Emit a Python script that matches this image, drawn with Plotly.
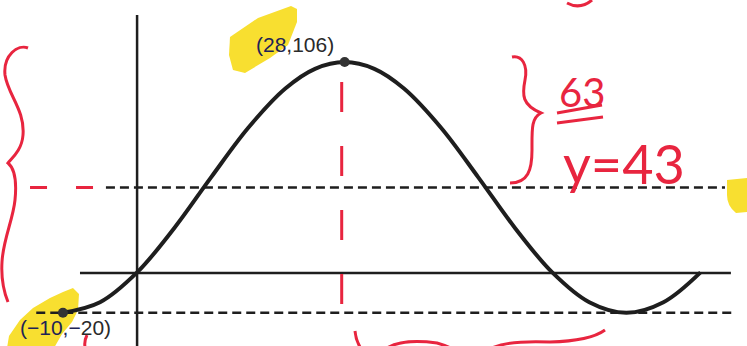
import re
import plotly.graph_objects as go

# Sinusoid readings: x in units, y in units
curve_x = [-10, -5, 0, 5, 10, 15, 20, 24, 28, 32, 36, 41, 46, 51, 56, 61, 66, 71, 76]
curve_y = [-20, -14.7, 0.3, 22.5, 48.2, 73.0, 92.7, 102.6, 106, 102.6, 92.7,
           73.0, 48.2, 22.5, 0.3, -14.7, -20, -14.7, 0.3]

# Labelled extreme points
point_x = [-10, 28]
point_y = [-20, 106]
point_labels = ['<span style="color:#1d2356">(−10,−</span>20)',
                '<span style="color:#1d2356">(28</span>,106)']
label_shift = [(3, -15), (-50, 18)]

midline = 43
amplitude = 63
midline_label = "y=43"
amplitude_label = "63"

X_RANGE = [-18.49, 82.27]
Y_RANGE = [-36.68, 137.19]
W, H = 747, 346

INK = "#1e1e1e"
RED = "#e8253f"
YELLOW = "#f8df30"


def ink(spec):
    """Turn a pen path given in canvas pixels into a paper-coordinate SVG path."""
    out, pend = [], []
    for t in re.findall(r"[A-Za-z]|-?\d+(?:\.\d+)?", spec):
        if t.isalpha():
            out.append(t)
        else:
            pend.append(float(t))
            if len(pend) == 2:
                out.append(f"{pend[0] / W:.5f},{1 - pend[1] / H:.5f}")
                pend = []
    return " ".join(out)


fig = go.Figure()

shapes = []

# highlighter marks
for spec in [
    "M230,37 L258,18 L291,6 L297,9 L297,22 L288,45 L270,58 L245,73 L233,70 L229,55 Z",
    "M9,336 L20,320 L33,308 L50,298 L63,292 L73,288 L79,294 L78,310 L72,322 L62,334 L54,348 L7,348 Z",
    "M727,180 L748,178 L748,212 L736,213 Q727,206 727,195 Z",
]:
    shapes.append(dict(type="path", xref="paper", yref="paper", path=ink(spec),
                       fillcolor=YELLOW, line=dict(width=0), layer="below"))

# coordinate axes
shapes.append(dict(type="line", xref="x", yref="y", x0=0, x1=0, y0=129.6, y1=Y_RANGE[0] - 5,
                   line=dict(color=INK, width=2.5), layer="below"))
shapes.append(dict(type="line", xref="x", yref="y", x0=-7.7, x1=80.1, y0=0, y1=0,
                   line=dict(color=INK, width=2.5), layer="below"))

# midline and minimum guide lines
shapes.append(dict(type="line", xref="x", yref="y", x0=-4.2, x1=79.3, y0=midline, y1=midline,
                   line=dict(color=INK, width=2.5, dash="9px,5px"), layer="below"))
shapes.append(dict(type="line", xref="x", yref="y", x0=-13.6, x1=80.6,
                   y0=midline - amplitude, y1=midline - amplitude,
                   line=dict(color=INK, width=2.5, dash="9px,5px"), layer="below"))

# red pen: vertical guide through the maximum and dashes at the midline
shapes.append(dict(type="line", xref="x", yref="y", x0=27.6, x1=27.6, y0=96, y1=-17,
                   line=dict(color=RED, width=3, dash="30px,34px")))
shapes.append(dict(type="line", xref="x", yref="y", x0=-14.44, x1=-5.94, y0=midline, y1=midline,
                   line=dict(color=RED, width=3, dash="17px,29px")))

# red pen braces and strokes
for spec in [
    "M28,48 C18,44 3,55 5,75 C8,95 25,110 23,135 C22,150 12,158 8,163 "
    "C14,168 17,180 15,200 C13,220 3,240 2,262 C1,278 4,292 8,302",
    "M512,57 C522,55 528,65 525,80 C522,95 522,105 541,113 C531,118 532,130 532,150 "
    "C532,170 528,183 510,183",
    "M557,113 L602,105",
    "M557,123 L603,117",
    "M567,3 Q580,10 592,0",
    "M355,331 Q356,342 362,350",
    "M384,350 Q400,338 437,343 Q447,346 455,350",
    "M488,350 Q505,340 550,342 Q590,341 605,330",
    "M87,335 Q84,341 85,347",
]:
    shapes.append(dict(type="path", xref="paper", yref="paper", path=ink(spec),
                       line=dict(color=RED, width=3)))

# the sinusoid
fig.add_trace(go.Scatter(x=curve_x, y=curve_y, mode="lines",
                         line=dict(color=INK, width=4, shape="spline", smoothing=1.0),
                         hoverinfo="skip"))
fig.add_trace(go.Scatter(x=point_x, y=point_y, mode="markers",
                         marker=dict(color="#333333", size=10), hoverinfo="skip"))

annotations = []
for x, y, txt, (dx, dy) in zip(point_x, point_y, point_labels, label_shift):
    annotations.append(dict(x=x, y=y, xref="x", yref="y", text=txt, showarrow=False,
                            xshift=dx, yshift=dy, xanchor="center", yanchor="middle",
                            font=dict(family="Liberation Sans, Arial", size=21, color="#2a2a2a")))

annotations.append(dict(x=582 / W, y=1 - 92 / H, xref="paper", yref="paper",
                        text=amplitude_label, showarrow=False,
                        xanchor="center", yanchor="middle",
                        font=dict(family="Lato, Open Sans", size=40, color=RED, weight=400)))
annotations.append(dict(x=624 / W, y=1 - 163 / H, xref="paper", yref="paper",
                        text=midline_label, showarrow=False,
                        xanchor="center", yanchor="middle",
                        font=dict(family="Lato, Open Sans", size=54, color=RED, weight=400)))

fig.update_layout(
    width=W, height=H,
    margin=dict(l=0, r=0, t=0, b=0),
    paper_bgcolor="white", plot_bgcolor="white",
    showlegend=False,
    shapes=shapes,
    annotations=annotations,
    xaxis=dict(range=X_RANGE, visible=False, fixedrange=True),
    yaxis=dict(range=Y_RANGE, visible=False, fixedrange=True),
)

fig.write_html("out.html")
